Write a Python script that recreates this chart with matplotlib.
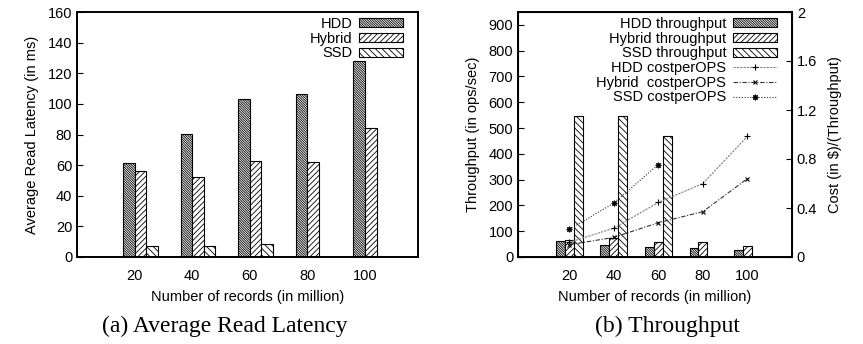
import matplotlib
matplotlib.use('Agg')
import matplotlib.pyplot as plt
import numpy as np

plt.rcParams['font.family'] = ['Liberation Sans', 'DejaVu Sans']
plt.rcParams['hatch.linewidth'] = 0.6
plt.rcParams['font.size'] = 10.5

# data
records = ['20', '40', '60', '80', '100']

lat_hdd = [61.5, 80.5, 103.5, 106.5, 128]
lat_hybrid = [56, 52.5, 63, 62, 84]
lat_ssd = [7, 7, 8.5, np.nan, np.nan]

thr_hdd = [62, 47, 38, 35, 28]
thr_hybrid = [65, 72, 60, 60, 43]
thr_ssd = [548, 548, 470, np.nan, np.nan]

cost_hdd = [0.12, 0.235, 0.445, 0.60, 0.985]
cost_hybrid = [0.10, 0.16, 0.28, 0.37, 0.64]
cost_ssd = [0.225, 0.44, 0.755]

W, H = 863, 344
fig = plt.figure(figsize=(W / 100, H / 100), dpi=100)

def px_axes(x0, y0, x1, y1):
    return fig.add_axes([x0 / W, 1 - y1 / H, (x1 - x0) / W, (y1 - y0) / H])

def style_frame(ax):
    for s in ax.spines.values():
        s.set_linewidth(1.4)
    ax.tick_params(direction='in', length=4, width=0.8, labelsize=10.5)
    ax.tick_params(axis='x', length=0, pad=9)

HATCH = ['\\' * 14, '/' * 6, '\\' * 5]
bw = 0.2
x = np.arange(len(records))
leg_kw = dict(frameon=False, markerfirst=False, handlelength=3.0, handleheight=0.6,
              labelspacing=0.05, borderaxespad=0.0, handletextpad=0.5, fontsize=10.5,
              loc='upper right')

# (a) average read latency
ax1 = px_axes(77, 12, 418, 257)
for k, (vals, lab) in enumerate(zip([lat_hdd, lat_hybrid, lat_ssd], ['HDD', 'Hybrid', 'SSD'])):
    ax1.bar(x - 0.1 + k * bw, vals, bw, color='white', edgecolor='black', lw=0.8,
            hatch=HATCH[k], label=lab)
ax1.set_xlim(-1, 4.92)
ax1.set_ylim(0, 160)
ax1.set_yticks(range(0, 161, 20))
ax1.set_xticks(x)
ax1.set_xticklabels(records)
style_frame(ax1)
ax1.set_ylabel('Average Read Latency (in ms)', fontsize=10.5, labelpad=6)
ax1.set_xlabel('Number of records (in million)', fontsize=10.5, labelpad=5)
ax1.legend(bbox_to_anchor=(1 - 9 / 341, 1 + 1 / 245), **leg_kw)

# (b) throughput and cost
ax2 = px_axes(518, 12, 792, 257)
bars = []
for k, (vals, lab) in enumerate(zip([thr_hdd, thr_hybrid, thr_ssd],
                                    ['HDD throughput', 'Hybrid throughput', 'SSD throughput'])):
    bars.append(ax2.bar(x - 0.2 + k * bw, vals, bw, color='white', edgecolor='black', lw=0.8,
                        hatch=HATCH[k], label=lab))
ax2.set_xlim(-1.15, 5.0)
ax2.set_ylim(0, 950)
ax2.set_yticks(range(0, 901, 100))
ax2.set_xticks(x)
ax2.set_xticklabels(records)
style_frame(ax2)
ax2.set_ylabel('Throughput (in ops/sec)', fontsize=10.5, labelpad=6)
ax2.set_xlabel('Number of records (in million)', fontsize=10.5, labelpad=5)

ax3 = ax2.twinx()
ax3.set_ylim(0, 2)
ax3.set_yticks([0, 0.4, 0.8, 1.2, 1.6, 2])
ax3.set_yticklabels(['0', '0.4', '0.8', '1.2', '1.6', '2'])
ax3.tick_params(direction='in', length=4, width=0.8, labelsize=10.5)
ax3.set_ylabel(r'Cost (in \$)/(Throughput)', fontsize=10.5, labelpad=8)
l1, = ax3.plot(x, cost_hdd, color='0.5', lw=0.8, ls=(0, (2, 1)), marker='+', ms=4,
               mec='black', mew=0.8, label='HDD costperOPS')
l2, = ax3.plot(x, cost_hybrid, color='0.2', lw=0.8, ls=(0, (4, 1.5, 1, 1.5)), marker='x', ms=3.5,
               mec='black', mew=0.8, label='Hybrid  costperOPS')
l3, = ax3.plot(x[:len(cost_ssd)], cost_ssd, color='0.2', lw=0.8, ls=(0, (1, 1.5)),
               marker=(8, 2, 0), ms=4, mec='black', mew=0.8, label='SSD costperOPS')
ax3.legend(handles=bars + [l1, l2, l3], bbox_to_anchor=(1 - 9 / 274, 1 + 1 / 245), **leg_kw)

# sub captions
fig.text(225 / W, 1 - 326 / H, '(a) Average Read Latency', ha='center', va='center',
         family='Liberation Serif', fontsize=17)
fig.text(667 / W, 1 - 326 / H, '(b) Throughput', ha='center', va='center',
         family='Liberation Serif', fontsize=17)
# figure caption below, only its very top shows in the reference
fig.text(440 / W, 1 - 345 / H, 'Figure 3: The effect of the data size on HDD, SSD and hybrid storage',
         ha='center', va='top', family='Liberation Serif', fontsize=16, color='0.8')

fig.savefig('out.png', dpi=100)
